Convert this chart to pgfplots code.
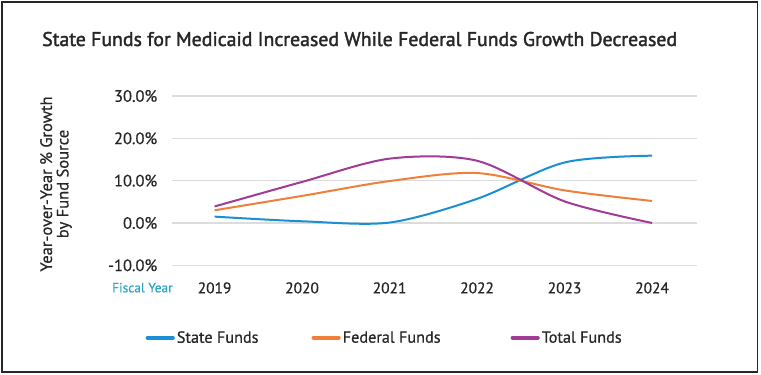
\documentclass[border=0pt]{standalone}
\usepackage{fontspec}
\setmainfont{PT Sans}[RawFeature={embolden=0.6}]
\newfontfamily\titlefont{PT Sans}[RawFeature={embolden=1.8}]
\usepackage{pgfplots}
\pgfplotsset{compat=1.18}
\definecolor{stateblue}{HTML}{1B8FD4}
\definecolor{fedorange}{HTML}{F07F3A}
\definecolor{totpurple}{HTML}{A23B96}
\definecolor{fyteal}{HTML}{2AA6C8}
\definecolor{txt}{HTML}{262626}
\definecolor{gridc}{HTML}{DCDCDC}
\begin{document}
\begin{tikzpicture}
\path[use as bounding box,fill=white] (0bp,0bp) rectangle (761bp,375bp);
\draw[line width=1.6bp,color=black!85] (1.8bp,2.8bp) rectangle (757.6bp,373.2bp);
\node[anchor=base west,inner sep=0,text=txt,font=\titlefont\fontsize{19.9}{22}\selectfont] at (42bp,329bp) {State Funds for Medicaid Increased While Federal Funds Growth Decreased};
\node[rotate=90,align=center,text=txt,inner sep=0,font=\fontsize{16.6}{16.5}\selectfont] at (56bp,191bp) {Year-over-Year \% Growth\\by Fund Source};
\node[anchor=base west,inner sep=0,text=fyteal,font=\fontsize{13.4}{16}\selectfont] at (112bp,82.7bp) {Fiscal Year};
\begin{axis}[
  at={(171.7bp,109.7bp)}, anchor=south west,
  scale only axis, width=525bp, height=169.3bp,
  xmin=2018.51, xmax=2024.51, ymin=-10, ymax=30,
  axis line style={draw=none},
  major tick style={draw=none},
  ymajorgrids, grid style={gridc,line width=1.2bp},
  xtick={2019,2020,2021,2022,2023,2024},
  ytick={-10,0,10,20,30},
  /pgf/number format/assume math mode=true,
  xticklabel style={/pgf/number format/1000 sep={},anchor=base,yshift=-28bp,text=txt,font=\fontsize{15.5}{17}\selectfont},
  yticklabel style={text=txt,xshift=-11bp,font=\fontsize{16.5}{17}\selectfont},
  yticklabel={\pgfmathprintnumber[fixed,fixed zerofill,precision=1]{\tick}\%},
  legend columns=3,
  legend style={at={(-0.05,-0.428)},anchor=west,draw=none,fill=none,
    font=\fontsize{16.3}{17}\selectfont,text=txt,
    /tikz/column 2/.style={column sep=51bp},
    /tikz/column 4/.style={column sep=68bp},
    inner sep=0pt},
  legend image code/.code={\draw[#1,line width=4.2bp,line cap=round] (2bp,0bp) -- (27bp,0bp);},
  every axis plot/.append style={line width=2.0bp},
]
\addplot[stateblue,smooth] coordinates {(2019,1.5) (2020,0.4) (2021,0.1) (2022,5.7) (2023,14.3) (2024,15.9)};
\addlegendentry{State Funds}
\addplot[fedorange,smooth] coordinates {(2019,3.0) (2020,6.4) (2021,9.9) (2022,11.8) (2023,7.7) (2024,5.2)};
\addlegendentry{Federal Funds}
\addplot[totpurple,smooth] coordinates {(2019,3.9) (2020,9.7) (2021,15.2) (2022,14.7) (2023,5.1) (2024,0.0)};
\addlegendentry{Total Funds}
\end{axis}
\end{tikzpicture}
\end{document}
